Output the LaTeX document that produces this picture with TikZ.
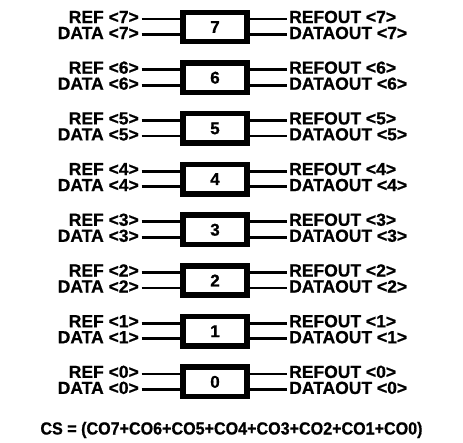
\documentclass[tikz,border=0pt]{standalone}
\usepackage{fontspec}
\setmainfont[BoldFeatures={FakeBold=0.8}]{Liberation Sans}
\begin{document}
\begin{tikzpicture}[x=1pt,y=-1pt,
  lbl/.style={font=\fontsize{17.5}{20}\selectfont\bfseries, inner sep=0pt},
  blk/.style={draw, line width=5.5pt, minimum width=64pt, minimum height=29.4pt, inner sep=0pt, outer sep=0pt, font=\fontsize{17}{20}\selectfont\bfseries},
  wire/.style={line width=2.8pt}]
\useasboundingbox (0,0) rectangle (463,442);
\foreach \i in {0,...,7}{
  \pgfmathsetmacro{\yc}{27+(7-\i)*50.7}
  \pgfmathsetmacro{\yr}{\yc-8}
  \pgfmathsetmacro{\yd}{\yc+7.5}
  \node[blk] (b\i) at (215,\yc) {\i};
  \coordinate (rin\i) at (141.5,\yr);
  \coordinate (din\i) at (141.5,\yd);
  \coordinate (rout\i) at (287,\yr);
  \coordinate (dout\i) at (287,\yd);
  \node[lbl, anchor=base east] (tr\i) at (139,\yr+4) {REF <\i>};
  \node[lbl, anchor=base east] (td\i) at (139,\yd+4.5) {DATA <\i>};
  \node[lbl, anchor=base west] (tro\i) at (289,\yr+4) {REFOUT <\i>};
  \node[lbl, anchor=base west] (tdo\i) at (289,\yd+4.5) {DATAOUT <\i>};
  \draw[wire] (rin\i) -- (b\i.west |- rin\i);
  \draw[wire] (din\i) -- (b\i.west |- din\i);
  \draw[wire] (b\i.east |- rout\i) -- (rout\i);
  \draw[wire] (b\i.east |- dout\i) -- (dout\i);
}
\node[lbl, anchor=base] (cs) at (231.5,434.5) {\scalebox{0.92}[1]{CS = (CO7+CO6+CO5+CO4+CO3+CO2+CO1+CO0)}};
\end{tikzpicture}
\end{document}
